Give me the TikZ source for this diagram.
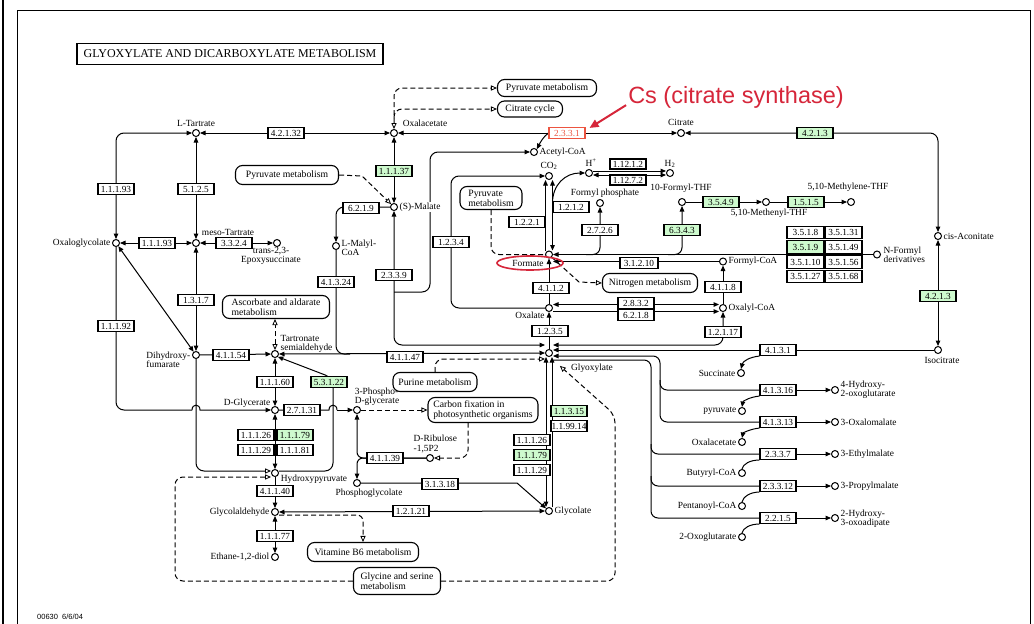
\documentclass[tikz,border=0pt]{standalone}
\usepackage{fontspec}
\setmainfont{Liberation Serif}
\newfontfamily\csans{Liberation Sans}
\usetikzlibrary{arrows.meta,backgrounds,shapes.geometric}
\definecolor{kgreen}{RGB}{206,250,206}
\definecolor{cred}{RGB}{214,38,58}
\definecolor{bred}{RGB}{236,84,64}
\newcommand\kf{\fontsize{9.3}{9.5}\selectfont}
\newcommand\lf{\fontsize{9.4}{9.4}\selectfont}
\newcommand\pf{\fontsize{9.7}{10.2}\selectfont}
\tikzset{
  kopen/.tip={Triangle[open,length=6pt,width=5.2pt,line width=0.8pt]},
  cpd/.style={circle,draw,fill=white,line width=1pt,minimum size=7pt,inner sep=0pt},
  enz/.style={draw,fill=white,line width=1.1pt,minimum width=36pt,minimum height=11pt,inner sep=0pt,font=\kf},
  genz/.style={enz,fill=kgreen},
  renz/.style={enz,draw=bred,text=bred},
  tenz/.style={enz,minimum width=37pt,minimum height=12.5pt},
  pbox/.style={draw,fill=white,line width=1.1pt,rounded corners=7pt,inner sep=2pt,font=\pf,align=left},
  lbl/.style={inner sep=0.5pt,font=\lf,align=left},
  ln/.style={line width=1pt},
  dsh/.style={line width=1pt,dash pattern=on 5pt off 3pt},
}
\begin{document}
\begin{tikzpicture}[x=1pt,y=-1pt,>={Triangle[length=5.5pt,width=4.6pt]}]
\useasboundingbox (0,0) rectangle (1034,624);
% frame
\draw[line width=0.9pt] (17,624) -- (17,10) -- (1030,10) -- (1030,624);
\draw[line width=1.6pt] (3,0) -- (3,624);
\node[draw,line width=1.8pt,minimum width=306pt,minimum height=21pt,inner sep=0pt,font=\fontsize{12}{12}\selectfont] (title) at (230,54) {GLYOXYLATE AND DICARBOXYLATE METABOLISM};
% compounds
\node[cpd] (Ltar) at (196,133) {};
\node[cpd] (OAA) at (394,133) {};
\node[cpd] (Cit) at (681,133) {};
\node[cpd] (Acoa) at (534,152) {};
\node[cpd] (cisA) at (938,236) {};
\node[cpd] (CO2) at (549,176) {};
\node[cpd] (Hp) at (589,173) {};
\node[cpd] (H2) at (670,173) {};
\node[cpd] (Fph) at (600,203) {};
\node[cpd] (FTHF) at (682,202) {};
\node[cpd] (Meth) at (766,202) {};
\node[cpd] (Mthy) at (851,202) {};
\node[cpd] (Form) at (549,254.5) {};
\node[cpd] (NF) at (877,254.5) {};
\node[cpd] (FCoA) at (723,261.5) {};
\node[cpd] (Oxal) at (549,308) {};
\node[cpd] (OCoA) at (723,308) {};
\node[cpd] (Glx) at (549,353) {};
\node[cpd] (Iso) at (938,350) {};
\node[cpd] (Succ) at (741,373) {};
\node[cpd] (HOG) at (835,390) {};
\node[cpd] (Pyr) at (742,411) {};
\node[cpd] (OxM) at (835,422) {};
\node[cpd] (OAAb) at (742,442) {};
\node[cpd] (EtM) at (835,454) {};
\node[cpd] (BCoA) at (742,473) {};
\node[cpd] (PrM) at (835,486) {};
\node[cpd] (PCoA) at (742,506) {};
\node[cpd] (HOA) at (835,518) {};
\node[cpd] (OG) at (742,537) {};
\node[cpd] (Mal) at (394,207) {};
\node[cpd] (LMC) at (336,246) {};
\node[cpd] (Oxg) at (116,243) {};
\node[cpd] (meso) at (196,243) {};
\node[cpd] (Epox) at (277,243) {};
\node[cpd] (DHF) at (196,355) {};
\node[cpd] (Tart) at (275,354) {};
\node[cpd] (DGly) at (275,410) {};
\node[cpd] (PG) at (357,410) {};
\node[cpd] (HP) at (275,473) {};
\node[cpd] (Rib) at (430,458) {};
\node[cpd] (PGc) at (357,483) {};
\node[cpd] (Glc) at (549,511) {};
\node[cpd] (Gald) at (275,512) {};
\node[cpd] (Eth) at (275,557) {};
% compound labels
\node[lbl] (tLtar) at (196,123) {L-Tartrate};
\node[lbl] (tOAA) at (425,123) {Oxalacetate};
\node[lbl] (tCit) at (681,122) {Citrate};
\node[lbl,anchor=west] (tAcoa) at (539,152) {Acetyl-CoA};
\node[lbl] (tCO2) at (549,166) {CO\textsubscript{2}};
\node[lbl] (tHp) at (591,163) {H\textsuperscript{+}};
\node[lbl] (tH2) at (670,164) {H\textsubscript{2}};
\node[lbl] (tFph) at (605,193) {Formyl phosphate};
\node[lbl] (tFTHF) at (681,188) {10-Formyl-THF};
\node[lbl] (tMthy) at (848,187) {5,10-Methylene-THF};
\node[lbl] (tMeth) at (769,213) {5,10-Methenyl-THF};
\node[lbl,anchor=west] (tcisA) at (943,236) {cis-Aconitate};
\node[lbl,anchor=west] (tNF) at (883,255) {N-Formyl\\derivatives};
\node[lbl,anchor=west] (tFCoA) at (728,261.5) {Formyl-CoA};
\node[lbl,anchor=west] (tOCoA) at (728,308) {Oxalyl-CoA};
\node[lbl] (tForm) at (528,263) {Formate};
\node[lbl] (tOxal) at (530,315) {Oxalate};
\node[lbl] (tGlx) at (592,368) {Glyoxylate};
\node[lbl] (tIso) at (942,360) {Isocitrate};
\node[lbl,anchor=east] (tSucc) at (736,373) {Succinate};
\node[lbl,anchor=west] (tHOG) at (840,390) {4-Hydroxy-\\2-oxoglutarate};
\node[lbl,anchor=east] (tPyr) at (737,411) {pyruvate};
\node[lbl,anchor=west] (tOxM) at (840,422) {3-Oxalomalate};
\node[lbl,anchor=east] (tOAAb) at (737,442) {Oxalacetate};
\node[lbl,anchor=west] (tEtM) at (840,454) {3-Ethylmalate};
\node[lbl,anchor=east] (tBCoA) at (737,473) {Butyryl-CoA};
\node[lbl,anchor=west] (tPrM) at (840,486) {3-Propylmalate};
\node[lbl,anchor=east] (tPCoA) at (737,506) {Pentanoyl-CoA};
\node[lbl,anchor=west] (tHOA) at (840,519) {2-Hydroxy-\\3-oxoadipate};
\node[lbl,anchor=east] (tOG) at (737,537) {2-Oxoglutarate};
\node[lbl,anchor=west,fill=white] (tMal) at (399,207) {(S)-Malate};
\node[lbl,anchor=west] (tLMC) at (341,248) {L-Malyl-\\CoA};
\node[lbl,anchor=east] (tOxg) at (111,243) {Oxaloglycolate};
\node[lbl] (tmeso) at (228,232) {meso-Tartrate};
\node[lbl,align=center] (tEpox) at (271,256) {trans-2,3-\\Epoxysuccinate};
\node[lbl,anchor=east] (tDHF) at (191,360) {Dihydroxy-\\fumarate};
\node[lbl,anchor=west] (tTart) at (280,344) {Tartronate\\semialdehyde};
\node[lbl] (tDGly) at (247,403) {D-Glycerate};
\node[lbl] (tPG) at (377,397) {3-Phospho-\\D-glycerate};
\node[lbl] (tHP) at (314,479) {Hydroxypyruvate};
\node[lbl,anchor=west] (tRib) at (413,444) {D-Ribulose\\-1,5P2};
\node[lbl] (tPGc) at (369,493) {Phosphoglycolate};
\node[lbl,anchor=west] (tGlc) at (554,511) {Glycolate};
\node[lbl,anchor=east] (tGald) at (270,512) {Glycolaldehyde};
\node[lbl,anchor=east] (tEth) at (270,557) {Ethane-1,2-diol};
% enzymes
\node[enz] (e42132) at (286,133) {4.2.1.32};
\node[enz] (e1193a) at (116,189) {1.1.1.93};
\node[enz] (e5125) at (196,189) {5.1.2.5};
\node[genz] (e1137) at (394,171) {1.1.1.37};
\node[renz] (e2331) at (567,133) {2.3.3.1};
\node[genz] (e4213a) at (815,133) {4.2.1.3};
\node[enz] (e6219) at (361,208) {6.2.1.9};
\node[enz] (e1193b) at (157,243) {1.1.1.93};
\node[enz] (e3324) at (234,243) {3.3.2.4};
\node[enz] (e41324) at (336,282) {4.1.3.24};
\node[enz] (e2339) at (394,275) {2.3.3.9};
\node[enz] (e1234) at (451,242) {1.2.3.4};
\node[enz] (e1221) at (527,222) {1.2.2.1};
\node[enz] (e1212) at (571,207) {1.2.1.2};
\node[enz,minimum height=10pt] (e11212) at (628,164) {1.12.1.2};
\node[enz,minimum height=10pt] (e11272) at (628,180) {1.12.7.2};
\node[enz] (e2726) at (600,230) {2.7.2.6};
\node[genz] (e6343) at (682,230) {6.3.4.3};
\node[genz] (e3549) at (721,202) {3.5.4.9};
\node[genz] (e1515) at (806,202) {1.5.1.5};
\node[tenz] (tb1a) at (805.5,232.5) {3.5.1.8};
\node[tenz] (tb1b) at (843.5,232.5) {3.5.1.31};
\node[tenz,fill=kgreen] (tb2a) at (805.5,247) {3.5.1.9};
\node[tenz] (tb2b) at (843.5,247) {3.5.1.49};
\node[tenz] (tb3a) at (805.5,262) {3.5.1.10};
\node[tenz] (tb3b) at (843.5,262) {3.5.1.56};
\node[tenz] (tb4a) at (805.5,276.5) {3.5.1.27};
\node[tenz] (tb4b) at (843.5,276.5) {3.5.1.68};
\node[enz,minimum width=38pt] (e31210) at (639,263) {3.1.2.10};
\node[enz] (e4112) at (551,288) {4.1.1.2};
\node[enz] (e2832) at (636,303) {2.8.3.2};
\node[enz] (e6218) at (636,315) {6.2.1.8};
\node[enz] (e4118) at (723,287) {4.1.1.8};
\node[enz] (e12117) at (723,332) {1.2.1.17};
\node[enz] (e1235) at (550,331) {1.2.3.5};
\node[genz] (e4213b) at (938,296) {4.2.1.3};
\node[enz] (e4131) at (778,350) {4.1.3.1};
\node[enz] (e41316) at (778,390) {4.1.3.16};
\node[enz] (e41313) at (778,422) {4.1.3.13};
\node[enz] (e2337) at (778,454) {2.3.3.7};
\node[enz] (e23312) at (778,486) {2.3.3.12};
\node[enz] (e2215) at (778,518) {2.2.1.5};
\node[enz] (e1317) at (196,300) {1.3.1.7};
\node[enz] (e1192) at (116,326) {1.1.1.92};
\node[enz] (e41154) at (231,355) {4.1.1.54};
\node[enz] (e1160) at (275,382) {1.1.1.60};
\node[genz] (e53122) at (329,382) {5.3.1.22};
\node[enz] (e41147) at (405,357) {4.1.1.47};
\node[enz] (e27131) at (302,410) {2.7.1.31};
\node[enz] (e11126a) at (256,435) {1.1.1.26};
\node[genz] (e11179a) at (295,435) {1.1.1.79};
\node[enz] (e11129a) at (256,450) {1.1.1.29};
\node[enz] (e11181) at (295,450) {1.1.1.81};
\node[enz] (e41139) at (385,458) {4.1.1.39};
\node[enz] (e31318) at (440,484) {3.1.3.18};
\node[enz] (e12121) at (411,511) {1.2.1.21};
\node[enz] (e41140) at (275,491) {4.1.1.40};
\node[enz] (e11177) at (275,536) {1.1.1.77};
\node[genz] (e11315) at (569,411) {1.1.3.15};
\node[enz] (e119914) at (569,426) {1.1.99.14};
\node[enz] (e11126b) at (532,440) {1.1.1.26};
\node[genz] (e11179b) at (532,455) {1.1.1.79};
\node[enz] (e11129b) at (532,470) {1.1.1.29};
% pathway boxes
\node[pbox,minimum width=99pt,minimum height=17pt] (pPyr1) at (547,88) {Pyruvate metabolism};
\node[pbox,minimum width=65pt,minimum height=16pt] (pCit) at (530,109) {Citrate cycle};
\node[pbox,minimum width=103pt,minimum height=19pt] (pPyr2) at (287,175) {Pyruvate metabolism};
\node[pbox,minimum width=62pt,minimum height=23pt] (pPyr3) at (491,198) {Pyruvate\\metabolism};
\node[pbox,minimum width=95pt,minimum height=19pt] (pNit) at (650,283) {Nitrogen metabolism};
\node[pbox,minimum width=107pt,minimum height=23pt] (pAsc) at (276,307) {Ascorbate and aldarate\\metabolism};
\node[pbox,minimum width=84pt,minimum height=19pt] (pPur) at (435,382) {Purine metabolism};
\node[pbox,minimum width=110pt,minimum height=25pt] (pCarb) at (483,410) {Carbon fixation in\\photosynthetic organisms};
\node[pbox,minimum width=111pt,minimum height=19pt] (pVit) at (363,552) {Vitamine B6 metabolism};
\node[pbox,minimum width=87pt,minimum height=27pt] (pGly) at (397,581) {Glycine and serine\\metabolism};
% annotations
\node[font=\csans\fontsize{23.5}{24}\selectfont,text=cred,inner sep=1pt] (cs) at (736,97) {Cs (citrate synthase)};
\draw[cred,line width=2pt,-{Triangle[length=9pt,width=8pt]}] ([xshift=-1pt,yshift=4pt]cs.south west) -- ([xshift=4pt,yshift=-1pt]e2331.north east);
\node[draw=cred,ellipse,line width=1.6pt,minimum width=66pt,minimum height=14pt,inner sep=0pt] (redell) at (530,263) {};
\node[font=\csans\fontsize{7.5}{8}\selectfont,anchor=west,inner sep=0pt] (foot) at (37,617) {00630~~6/6/04};
% connectors
\begin{pgfonlayer}{background}
\fill[white] (0,0) rectangle (1034,624);
\begin{scope}[ln]
\draw[<->] (Ltar) -- (OAA);
\draw[<->,rounded corners=8pt] (Ltar.west) -| (Oxg.north);
\draw[<->] (Ltar) -- (meso);
\draw[<->] (Oxg) -- (meso);
\draw[<->] (meso) -- (Epox);
\draw[<->] (meso) -- (DHF);
\draw[<->] (Oxg) -- (DHF);
\draw[rounded corners=8pt] (Oxg.south) -- (116,410) -- (192,410);
\draw[->] (192,410) .. controls (192,403.5) and (200,403.5) .. (200,410) -- (DGly.west);
\draw[-kopen,rounded corners=8pt] (DHF.south) -- (196,471) -- ([yshift=2pt]HP.west);
% malate trunk
\draw[<->] (OAA) -- (Mal);
\draw[<->,rounded corners=8pt] (Mal.south) -- (394,345) -- ([yshift=8pt]Glx.west);
\draw[->,rounded corners=8pt] (394,292) -| (430,152) -- (Acoa.west);
\draw[->,rounded corners=8pt] (Mal.west) -| (LMC.north);
\draw[rounded corners=8pt] (LMC.south) -- (336,354) -- (350,354);
\draw[dsh,-kopen] (pPyr2.east) -- (362,176) -- (Mal.north west);
\draw[dsh,kopen-kopen,rounded corners=8pt] (OAA.north) -- (394,88) -- (pPyr1.west);
\draw[dsh,-kopen,rounded corners=8pt] (394,118) -- (394,109) -- (pCit.west);
% citrate
\draw[<->] (OAA) -- (Cit);
\draw[->] (e2331.west) .. controls (543,137) and (540,143) .. (Acoa.north east);
\draw[<->,rounded corners=8pt] (Cit) -| (cisA);
\draw[<->] (cisA) -- (Iso);
\draw[->] (Iso) -- ([yshift=3pt]Glx.east);
% CO2, formate
\draw[->,rounded corners=8pt] (Oxal.west) -- (451,308) -- (451,176) -- (CO2.west);
\draw[->] ([xshift=-3.5pt]Form.north) -- ([xshift=-3.5pt]CO2.south);
\draw[<->] ([xshift=3.5pt]CO2.south) -- ([xshift=3.5pt]Form.north);
\coordinate (hb) at (552.5,203);
\draw[->] (hb) .. controls (552.5,185) and (565,173) .. (Hp.west);
\draw[->] ([yshift=2pt]Hp.east) -- ([yshift=2pt]H2.west);
\draw[<->] ([yshift=-2pt]Hp.east) -- ([yshift=-2pt]H2.west);
\draw[->,rounded corners=7pt] (586,254.5) -- (600,254.5) -- (Fph.south);
\draw[->,rounded corners=7pt] (668,254.5) -- (682,254.5) -- (FTHF.south);
\draw[->] (FTHF) -- (Meth);
\draw[->] (Meth) -- (Mthy);
\draw[->] (NF) -- (Form);
\draw[->] (FCoA.west) -- ([yshift=-7pt]Form.east);
\draw[dsh,rounded corners=8pt] (pPyr3.south) |- (Form.west);
\draw[dsh,-kopen] (Form.south east) -- (579,282) -- (pNit.west);
\draw[->] (Oxal) -- (Form);
\draw[<->] ([yshift=3.5pt]Oxal.east) -- ([yshift=3.5pt]OCoA.west);
\draw[->] ([yshift=-3.5pt]Oxal.east) -- ([yshift=-3.5pt]OCoA.west);
\draw[->] (OCoA) -- (FCoA);
\draw[->] (Glx) -- (Oxal);
\draw[<->,rounded corners=8pt] ([yshift=8pt]Glx.east) -| (OCoA.south);
% right trunks
\draw[->,rounded corners=7pt] (e41313.west) -- (660,422) -- (660,356) -- ([yshift=-3pt]Glx.east);
\draw[rounded corners=7pt] (e41316.west) -- (660,390) -- (660,380);
\draw[rounded corners=7pt] (e2215.west) -- (651,518) -- (651,360) -- ([yshift=-7pt]Glx.east);
\draw[rounded corners=7pt] (e2337.west) -- (651,454) -- (651,444);
\draw[rounded corners=7pt] (e23312.west) -- (651,486) -- (651,476);
\draw[->] (e41316.west) -- (HOG);
\draw[->] (e41313.west) -- (OxM);
\draw[->] (e2337.west) -- (EtM);
\draw[->] (e23312.west) -- (PrM);
\draw[->] (e2215.west) -- (HOA);
\draw[->] (e4131.south west) .. controls (750,357) and (743,361) .. (Succ.north);
\draw[->] (e41316.south west) .. controls (750,397) and (743,401) .. (Pyr.north);
\draw[->] (e41313.south west) .. controls (750,429) and (743,433) .. (OAAb.north);
\draw (BCoA.north) .. controls (743,464) and (750,460) .. (e2337.south west);
\draw (PCoA.north) .. controls (743,497) and (750,492) .. (e23312.south west);
\draw (OG.north) .. controls (743,528) and (750,524) .. (e2215.south west);
% left bottom
\draw[->] (DHF) -- (Tart);
\draw[dsh,kopen-kopen] (Tart.north) -- (Tart.north |- pAsc.south);
\draw[<->] (Tart) -- (DGly);
\draw[<->] (Glx.west) -- (Tart.east);
\draw[->,rounded corners=8pt] ([yshift=2pt]HP.east) -- (333,471) -- (333,378) -- (Tart.south east);
\draw (DGly.east) -- (329,410) .. controls (329,403.5) and (337,403.5) .. (337,410);
\draw[->] (337,410) -- (PG.west);
\draw[<->] (DGly) -- (HP);
\draw[dsh,-kopen] (PG.east) -- (PG.east -| pCarb.west);
\draw[dsh,-kopen,rounded corners=8pt] (468,422.5) -- (468,458) -- (Rib.east);
\draw[->,rounded corners=6pt] (Rib.west) -- (357,458) -- (PG.south);
\draw[->,rounded corners=6pt] (Rib.west) -- (357,458) -- (PGc.north);
\draw[->] (PGc.east) -- (517,483) -- (Glc);
\draw[<->] (Gald) -- (Glc);
\draw[->] (HP) -- (Gald);
\draw[<->] (Gald) -- (Eth);
\draw[dsh,-kopen,rounded corners=6pt] ([yshift=-3pt]Gald.east) -- (363,515) -- (pVit.north);
\draw[dsh,-kopen,rounded corners=8pt] (pGly.west) -- (175,581) -- (175,477) -- ([yshift=-4pt]HP.west);
\draw[dsh,-kopen,rounded corners=8pt] (pGly.east) -- (615,581) -- (615,415) -- ([shift={(8pt,-10pt)}]Glx.south east);
\draw[dsh,-kopen,rounded corners=8pt] (pPur.north) |- ([yshift=-6pt]Glx.west);
\draw[<->] ([xshift=-3pt]Glx.south) -- ([xshift=-3pt]Glc.north);
\draw[->] ([xshift=3pt]Glc.north) -- ([xshift=3pt]Glx.south);
\end{scope}
\end{pgfonlayer}
\end{tikzpicture}
\end{document}
